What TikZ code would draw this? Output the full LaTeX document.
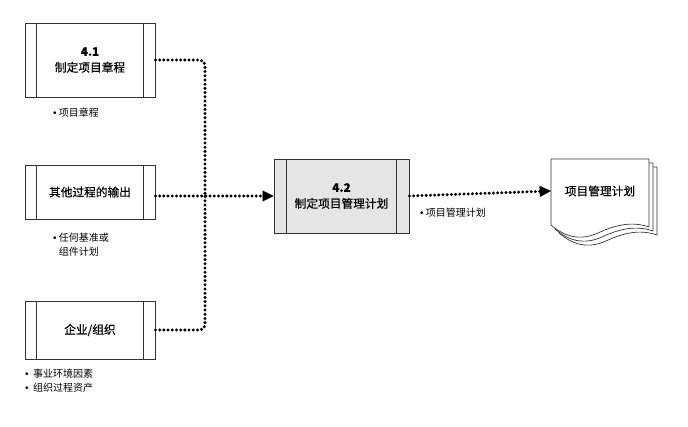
\documentclass[tikz,border=0pt]{standalone}
\usepackage{fontspec}
\setmainfont{Noto Sans CJK SC}
\newfontfamily\boxfont{Noto Sans CJK SC}[FakeBold=0.5]
\newfontfamily\bulletfont{Liberation Sans}
\usetikzlibrary{arrows.meta,positioning,calc}
\newcommand{\bul}{{\bulletfont\char"2022}}
\tikzset{
  pbox/.style={rectangle, draw=black!80, line width=0.9pt, fill=white, minimum width=130pt, minimum height=74pt, align=center, font=\boxfont\fontsize{11.7}{16}\selectfont, inner sep=2pt},
  dotline/.style={line width=3.3pt, dash pattern=on 0pt off 4.2pt, line cap=round, black},
  parr/.style={dotline, -{Triangle[length=11pt, width=11pt, line width=0.1pt]}},
  lbl/.style={inner sep=1pt, font=\fontsize{10}{14}\selectfont, align=left, anchor=west}
}
% side strips of a process box
\newcommand{\sidestrips}[2]{%
  \draw[line width=0.9pt, black!80] ($(#1.north west)+(#2,0)$) -- ($(#1.south west)+(#2,0)$);
  \draw[line width=0.9pt, black!80] ($(#1.north east)+(-#2,0)$) -- ($(#1.south east)+(-#2,0)$);
}
\begin{document}
\begin{tikzpicture}[x=1pt, y=-1pt,
    doc/.style={draw=black!80, line width=0.7pt, fill=white}
  ]
  \useasboundingbox (0,0) rectangle (688,427);

  % inputs
  \node[pbox] (charter) at (90,60) {\textbf{4.1}\\制定项目章程};
  \node[pbox, minimum height=54pt] (other) at (90,192) {其他过程的输出};
  \node[pbox, minimum height=58pt] (ent) at (90,330) {企业/组织};
  \sidestrips{charter}{12}
  \sidestrips{other}{12}
  \sidestrips{ent}{12}

  % process
  \node[pbox, fill=black!10, minimum width=135pt] (plan) at (341.5,196) {\textbf{4.2}\\制定项目管理计划};
  \sidestrips{plan}{13}

  % output document
  \foreach \d in {8,4,0}{
    \draw[doc, shift={(\d,\d+1)}] (551,158) -- (649,158) -- (649,226)
      .. controls (632,220) and (615,224) .. (598,232)
      .. controls (580,240) and (565,236) .. (551,224) -- cycle;
  }
  \node[font=\boxfont\fontsize{11.7}{16}\selectfont, inner sep=0pt, minimum width=98pt, minimum height=60pt] (pmp) at (600,191) {项目管理计划};

  % labels
  \node[lbl] (l1) at (52,113) {\bul\ 项目章程};
  \node[lbl] (l2) at (52,245) {\bul\ 任何基准或\\\phantom{\bul\ }组件计划};
  \node[lbl] (l3) at (24,381) {\bul\ \ 事业环境因素\\\bul\ \ 组织过程资产};
  \node[lbl] (l4) at (419,213) {\bul\ 项目管理计划};

  % connectors
  \coordinate (jn) at (205,196);
  \draw[dotline, rounded corners=5pt] (charter.east) -| (jn);
  \draw[dotline, rounded corners=5pt] (ent.east) -| (jn);
  \draw[parr] (other.east |- jn) -- (plan.west);
  \draw[parr] (plan.east) -- (pmp.west);
\end{tikzpicture}
\end{document}
